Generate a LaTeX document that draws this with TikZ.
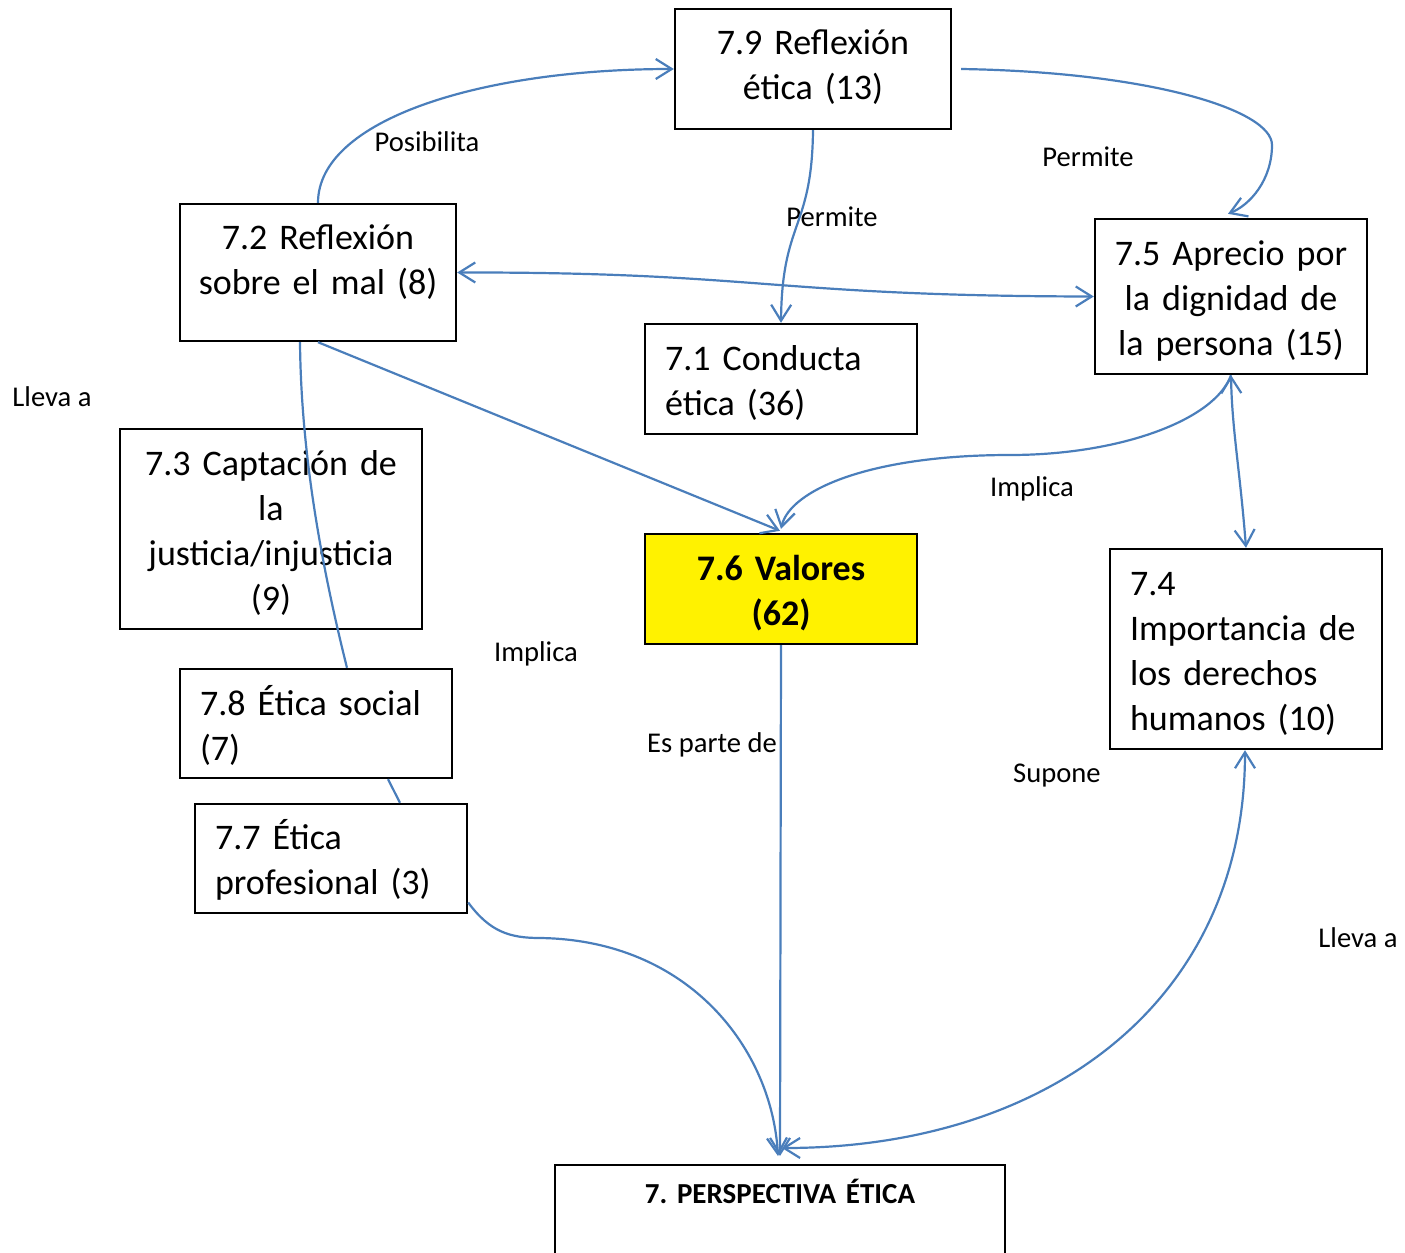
\documentclass[tikz,border=0pt]{standalone}
\usepackage{fontspec}
\setmainfont{Carlito}
\usetikzlibrary{arrows.meta}
\definecolor{azul}{RGB}{74,126,187}
\frenchspacing

\begin{document}
\begin{tikzpicture}[x=0.5pt, y=-0.5pt,
    caja/.style={draw, line width=1.2pt, inner xsep=10pt, inner ysep=0pt,
      text height=16.5pt, font=\fontsize{18}{22.5}\selectfont},
    centrada/.style={align=center, inner xsep=2pt},
    rotulo/.style={inner sep=0pt, text height=11pt, text depth=1.8pt,
      font=\fontsize{14.3}{17}\selectfont},
    flecha/.style={azul, line width=1.1pt, -{Straight Barb[length=8pt, width=10pt]}},
    doble/.style={azul, line width=1.1pt,
      {Straight Barb[length=8pt, width=10pt]}-{Straight Barb[length=8pt, width=10pt]}},
    linea/.style={azul, line width=1.1pt}]
          \useasboundingbox (0, 0) rectangle (1405, 1253);%
          \node [caja, centrada, minimum width=138pt, minimum height=60pt,
            text width=134pt, text height=10pt] (n79) at (813, 69) {%
            7.9 Reflexión\\ética (13)};%
          \node [caja, centrada, minimum width=138pt, minimum height=68.5pt,
            text width=134pt, text depth=40pt] (n72) at (318, 272.5) {%
            7.2 Reflexión\\sobre el mal (8)};%
          \node [caja, centrada, minimum width=136pt, minimum height=77.5pt,
            text width=132pt] (n75) at (1231, 296.5) {%
            7.5 Aprecio por\\la dignidad de\\la persona (15)};%
          \node [caja, align=left, minimum width=136pt, minimum height=55pt,
            text width=116pt] (n71) at (781, 379) {7.1 Conducta\\ética (36)};%
          \node [caja, centrada, minimum width=151pt, minimum height=100pt,
            text width=147pt] (n73) at (271, 529) {%
            7.3 Captación de\\la\\justicia/injusticia\\(9)};%
          \node [caja, centrada, minimum width=136pt, minimum height=55pt,
            text width=132pt, fill=yellow, font=\fontsize{18}{22.5}\selectfont\bfseries]
            (n76) at (781, 589) {7.6 Valores\\(62)};%
          \node [caja, align=left, minimum width=136pt, minimum height=100pt,
            text width=116pt] (n74) at (1246, 649) {%
            7.4\\Importancia de\\los derechos\\humanos (10)};%
          \node [caja, align=left, minimum width=136pt, minimum height=54.5pt,
            text width=116pt] (n78) at (316, 723.5) {7.8 Ética social\\(7)};%
          \node [caja, align=left, minimum width=136pt, minimum height=54.5pt,
            text width=116pt] (n77) at (331, 858.5) {7.7 Ética\\profesional (3)};%
          \node [caja, anchor=north, centrada, minimum width=225pt,
            text width=221pt, inner ysep=6pt, text height=13pt, text depth=60pt,
            font=\fontsize{14.5}{17}\selectfont\bfseries] (n7) at (780, 1164) {%
            7. PERSPECTIVA ÉTICA};%
          \node [rotulo] (lPosibilita) at (427, 142) {Posibilita};%
          \node [rotulo] (lPermiteA) at (1088, 157) {Permite};%
          \node [rotulo] (lPermiteB) at (832, 217) {Permite};%
          \node [rotulo] (lLlevaA) at (52, 397) {Lleva a};%
          \node [rotulo] (lImplicaA) at (1032, 487) {Implica};%
          \node [rotulo] (lImplicaB) at (536, 652) {Implica};%
          \node [rotulo] (lEsParte) at (712, 743) {Es parte de};%
          \node [rotulo] (lSupone) at (1057, 773) {Supone};%
          \node [rotulo] (lLlevaB) at (1358, 938) {Lleva a};%
          \draw [flecha] (n72.north) .. controls (318, 120) and (480, 69) .. (n79.west);%
          \draw [flecha] ([xshift=4.5pt]n79.east) .. controls (1150, 72) and (1272, 110)
            .. (1272, 145) .. controls (1272, 180) and (1250, 205)
            .. ([xshift=-1.5pt, yshift=2pt]n75.north);%
          \draw [flecha] (n79.south) .. controls (812, 230) and (782, 220) .. (n71.north);%
          \draw [doble] (n72.east) .. controls (760, 272) and (770, 296) .. (n75.west);%
          \draw [flecha] (n72.south) -- ([xshift=-0.5pt, yshift=1pt]n76.north);%
          \draw [linea] ([xshift=-9pt]n72.south) .. controls (301, 450) and (320, 560)
            .. ([xshift=15.5pt]n78.north);%
          \draw [linea] ([xshift=36pt]n78.south) -- ([xshift=34.5pt]n77.north);%
          \draw [flecha] ([yshift=-22pt]n77.east) .. controls (490, 932) and (510, 938)
            .. (540, 938) .. controls (690, 940) and (772, 1050)
            .. ([xshift=-1pt, yshift=4pt]n7.north);%
          \draw [flecha] (n76.south) -- ([yshift=4pt]n7.north);%
          \draw [doble] ([xshift=-0.5pt]n74.south) .. controls (1245, 1000) and (1050, 1148)
            .. ([shift={(1pt, 8pt)}]n7.north);%
          \draw [flecha] (n75.south) .. controls (1215, 420) and (1120, 455) .. (1010, 455)
            .. controls (870, 455) and (790, 490) .. ([yshift=2pt]n76.north);%
          \draw [doble] (n75.south) .. controls (1232, 430) and (1240, 470) .. (n74.north);%
        \end{tikzpicture}
\end{document}
